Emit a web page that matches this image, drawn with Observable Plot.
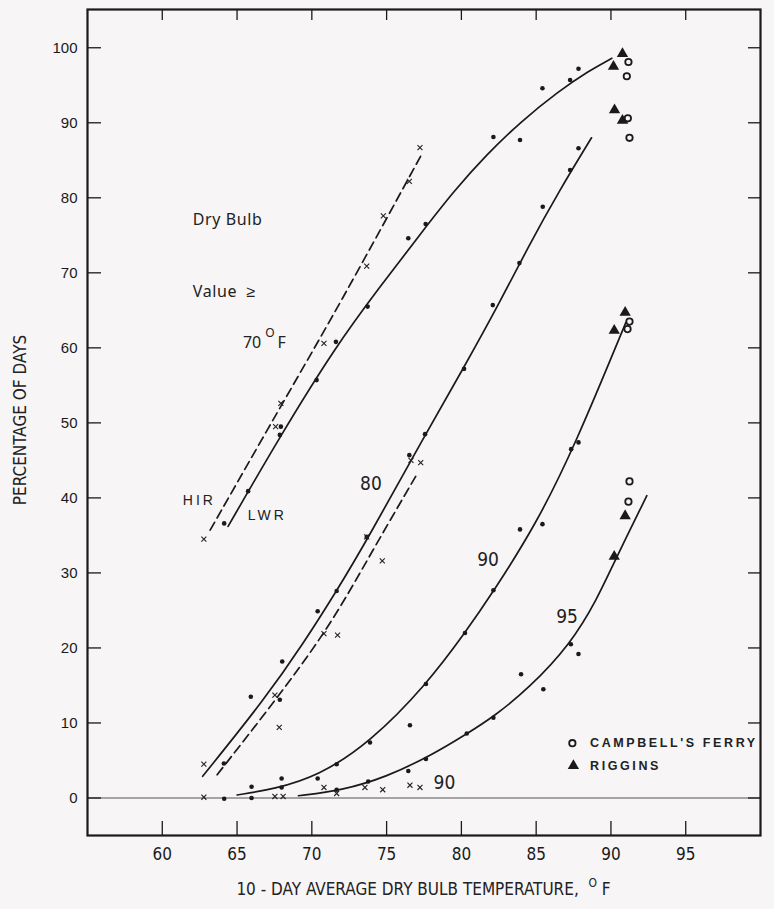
<!DOCTYPE html>
<html><head><meta charset="utf-8">
<script src="https://cdn.jsdelivr.net/npm/d3@7"></script>
<script src="https://cdn.jsdelivr.net/npm/@observablehq/plot@0.6"></script>
<style>
html,body{margin:0;padding:0;background:#f7f5f6;}
#chart{width:774px;height:909px;}
</style></head><body><div id="chart"></div>
<script>
// ---- tick labels ----
const xTicks = [60, 65, 70, 75, 80, 85, 90, 95];
const yTicks = [0, 10, 20, 30, 40, 50, 60, 70, 80, 90, 100];

// ---- observations: LWR (dots) ----
const lwrPoints = [
  [64.14,36.6],[65.74,40.9],[67.86,48.4],[67.93,49.5],[70.32,55.7],[71.61,60.8],[73.73,65.5],
  [76.45,74.6],[77.61,76.5],[82.14,88.1],[83.92,87.7],[85.42,94.6],[87.27,95.7],[87.83,97.2],
  [64.12,4.6],[65.92,13.5],[68.02,18.2],[67.86,13.1],[70.39,24.9],[71.66,27.6],[73.67,34.8],
  [76.52,45.7],[77.57,48.5],[80.18,57.2],[82.1,65.7],[83.88,71.3],[85.44,78.8],[87.27,83.7],[87.83,86.6],
  [65.97,0.0],[64.14,-0.1],[65.97,1.5],[67.98,2.6],[67.98,1.4],[70.39,2.6],[71.66,4.5],[73.89,7.4],
  [76.56,9.7],[77.63,15.2],[80.24,22.0],[82.14,27.7],[83.92,35.8],[85.42,36.5],[87.34,46.5],[87.83,47.4],
  [71.66,1.1],[73.77,2.2],[76.45,3.6],[77.63,5.2],[80.36,8.6],[82.14,10.7],[83.99,16.5],[85.48,14.5],
  [87.32,20.5],[87.83,19.2]
];
// ---- observations: HIR (crosses) ----
const hirPoints = [
  [62.78,34.5],[67.58,49.5],[67.93,52.6],[70.81,60.6],[73.67,70.9],[74.78,77.6],[76.52,82.2],[77.23,86.7],
  [62.78,4.5],[67.53,13.7],[67.82,9.4],[70.81,21.9],[71.72,21.7],[73.67,34.8],[74.71,31.6],[76.63,45.0],[77.28,44.7],
  [62.78,0.1],[67.53,0.2],[68.08,0.2],[70.81,1.4],[71.66,0.6],[73.55,1.4],[74.74,1.1],[76.56,1.7],[77.23,1.4]
];
// ---- Campbell's Ferry (open circles) and Riggins (triangles) ----
const campbellPoints = [[91.17,98.1],[91.06,96.2],[91.13,90.6],[91.24,88.0],[91.24,63.5],[91.11,62.5],[91.24,42.2],[91.17,39.5]];
const rigginsPoints = [[90.77,99.2],[90.17,97.5],[90.24,91.7],[90.77,90.3],[90.95,64.7],[90.22,62.3],[90.95,37.6],[90.22,32.2]];

// ---- fitted curves ----
const curveLWR70 = [[64.4,36.2],[67.9,48.3],[71.6,60.2],[74.5,68.0],[77.5,75.8],[79.5,80.9],[81.7,85.8],[84.0,90.2],[86.5,94.2],[88.5,96.9],[90.06,98.6]];
const curveHIR70 = [[63.2,35.7],[68.0,52.5],[71.7,65.2],[77.4,86.0]];
const curveLWR80 = [[62.7,2.9],[66.9,13.3],[69.5,20.8],[71.66,27.6],[73.67,34.3],[77.6,48.5],[80.2,57.5],[82.5,65.8],[84.5,73.6],[86.5,80.8],[88.7,88.0]];
const curveHIR80 = [[63.67,3.1],[67.64,13.2],[71.26,23.0],[74.23,33.6],[77.1,43.4]];
const curveLWR90 = [[65.0,0.4],[67.5,1.2],[70.4,2.9],[73.9,7.4],[77.7,15.2],[80.24,22.0],[82.14,27.5],[85.0,36.5],[87.6,47.0],[91.0,63.4]];
const curveLWR95 = [[69.1,0.3],[72.0,1.0],[75.0,2.8],[78.0,5.7],[80.4,8.6],[82.2,10.9],[84.5,14.6],[87.3,20.5],[89.1,26.6],[90.2,31.4],[92.4,40.3]];

// ---- annotation texts ----
const headLabels = [{x:62.04,y:77.1,t:"Dry Bulb"},{x:62.04,y:67.4,t:"Value  ≥"},{x:65.39,y:60.6,t:"70"},{x:67.71,y:60.6,t:"F"}];
const supLabels = [{x:67.2,y:62.0,t:"O"}];
const regionLabels = [{x:61.37,y:39.6,t:"HIR"},{x:65.72,y:37.6,t:"LWR"}];
const curveLabels = [{x:73.95,y:41.8,t:"80"},{x:81.78,y:31.8,t:"90"},{x:87.07,y:24.2,t:"95"},{x:78.87,y:2.0,t:"90"}];
const legendItems = [{x:87.42,y:7.3,tx:88.6,t:"CAMPBELL'S FERRY",k:"c"},{x:87.49,y:4.3,tx:88.6,t:"RIGGINS",k:"t"}];

const W = 774, H = 909, mL = 87, mR = 14, mT = 9, mB = 74;
const plotH = H - mT - mB, plotW = W - mL - mR;
const narrow = "'Liberation Sans Narrow','DejaVu Sans Condensed',sans-serif";
const ink = "#1a1a1a";
const X = d => d[0], Y = d => d[1];
const lineOpts = {x: X, y: Y, curve: "basis", stroke: ink, strokeWidth: 1.7};

const chart = Plot.plot({
  width: W, height: H,
  marginLeft: mL, marginRight: mR, marginTop: mT, marginBottom: mB,
  style: {background: "#f7f5f6", color: ink},
  x: {domain: [55, 100]},
  y: {domain: [-5, 105.1]},
  marks: [
    Plot.ruleY([0], {stroke: "#555", strokeWidth: 1.2}),
    Plot.frame({stroke: ink, strokeWidth: 2.2}),
    Plot.tickX(xTicks, {x: d => d, insetTop: plotH - 14, stroke: ink, strokeWidth: 1.3}),
    Plot.tickX(xTicks, {x: d => d, insetBottom: plotH - 11, stroke: ink, strokeWidth: 1.3}),
    Plot.tickY(yTicks, {y: d => d, insetRight: plotW - 14, stroke: ink, strokeWidth: 1.3}),
    Plot.tickY(yTicks, {y: d => d, insetLeft: plotW - 12, stroke: ink, strokeWidth: 1.3}),
    Plot.axisX(xTicks, {tickSize: 0, tickPadding: 12, fontSize: 17, fontFamily: narrow, label: null}),
    Plot.axisY(yTicks, {tickSize: 0, tickPadding: 10, fontSize: 15, fontFamily: "'Liberation Sans',sans-serif", label: null}),
    Plot.line(curveLWR70, lineOpts),
    Plot.line(curveHIR70, {...lineOpts, strokeDasharray: "9,5"}),
    Plot.line(curveLWR80, lineOpts),
    Plot.line(curveHIR80, {...lineOpts, strokeDasharray: "9,5"}),
    Plot.line(curveLWR90, lineOpts),
    Plot.line(curveLWR95, lineOpts),
    Plot.dot(lwrPoints, {x: X, y: Y, r: 2.3, fill: ink}),
    Plot.dot(hirPoints, {x: X, y: Y, symbol: "times", r: 2.4, stroke: "#222", strokeWidth: 1.1}),
    Plot.dot(campbellPoints, {x: X, y: Y, r: 3.2, stroke: ink, strokeWidth: 1.8, fill: "none"}),
    Plot.dot(rigginsPoints, {x: X, y: Y, symbol: "triangle", r: 4.2, fill: ink}),
    Plot.text(headLabels, {x: "x", y: "y", text: "t", textAnchor: "start", fontSize: 16, fontFamily: "'Noto Sans',sans-serif", fill: "#222"}),
    Plot.text(supLabels, {x: "x", y: "y", text: "t", fontSize: 12, fontFamily: "'Noto Sans',sans-serif", fill: "#222"}),
    Plot.text(regionLabels, {x: "x", y: "y", text: "t", textAnchor: "start", fontSize: 14, fontFamily: "'Liberation Sans',sans-serif", fill: "#222"}),
    Plot.text(curveLabels, {x: "x", y: "y", text: "t", fontSize: 19, fontFamily: narrow, fill: "#222"}),
    Plot.dot(legendItems.filter(d => d.k === "c"), {x: "x", y: "y", r: 3.2, stroke: ink, strokeWidth: 1.8, fill: "none"}),
    Plot.dot(legendItems.filter(d => d.k === "t"), {x: "x", y: "y", symbol: "triangle", r: 4.2, fill: ink}),
    Plot.text(legendItems, {x: "tx", y: "y", text: "t", textAnchor: "start", fontSize: 12.5, fontWeight: "bold", fontFamily: "'Liberation Sans',sans-serif", fill: "#222"})
  ]
});

const svg = d3.select(chart.tagName === "svg" ? chart : chart.querySelector("svg"));
svg.selectAll("text").filter(function() { return ["HIR","LWR"].includes(this.textContent); }).attr("letter-spacing", "3px");
svg.selectAll("text").filter(function() { return ["CAMPBELL'S FERRY","RIGGINS"].includes(this.textContent); }).attr("letter-spacing", "2.6px");
svg.selectAll("text").filter(function() { return ["Dry Bulb","Value  ≥"].includes(this.textContent); }).attr("letter-spacing", "0.6px").style("white-space","pre");

// axis titles
const xt = svg.append("text").attr("x", (mL + W - mR) / 2).attr("y", 895).attr("text-anchor", "middle")
  .attr("font-family", narrow).attr("font-size", 17).attr("fill", "#222");
xt.append("tspan").text("10 - DAY AVERAGE DRY BULB TEMPERATURE,  ");
xt.append("tspan").attr("dy", -8).attr("font-size", 12).text("O");
xt.append("tspan").attr("dy", 8).text(" F");
svg.append("text").attr("transform", "translate(26,420) rotate(-90)").attr("text-anchor", "middle")
  .attr("font-family", narrow).attr("font-size", 17).attr("fill", "#222").text("PERCENTAGE OF DAYS");

document.getElementById("chart").appendChild(chart);
</script>
</body></html>
